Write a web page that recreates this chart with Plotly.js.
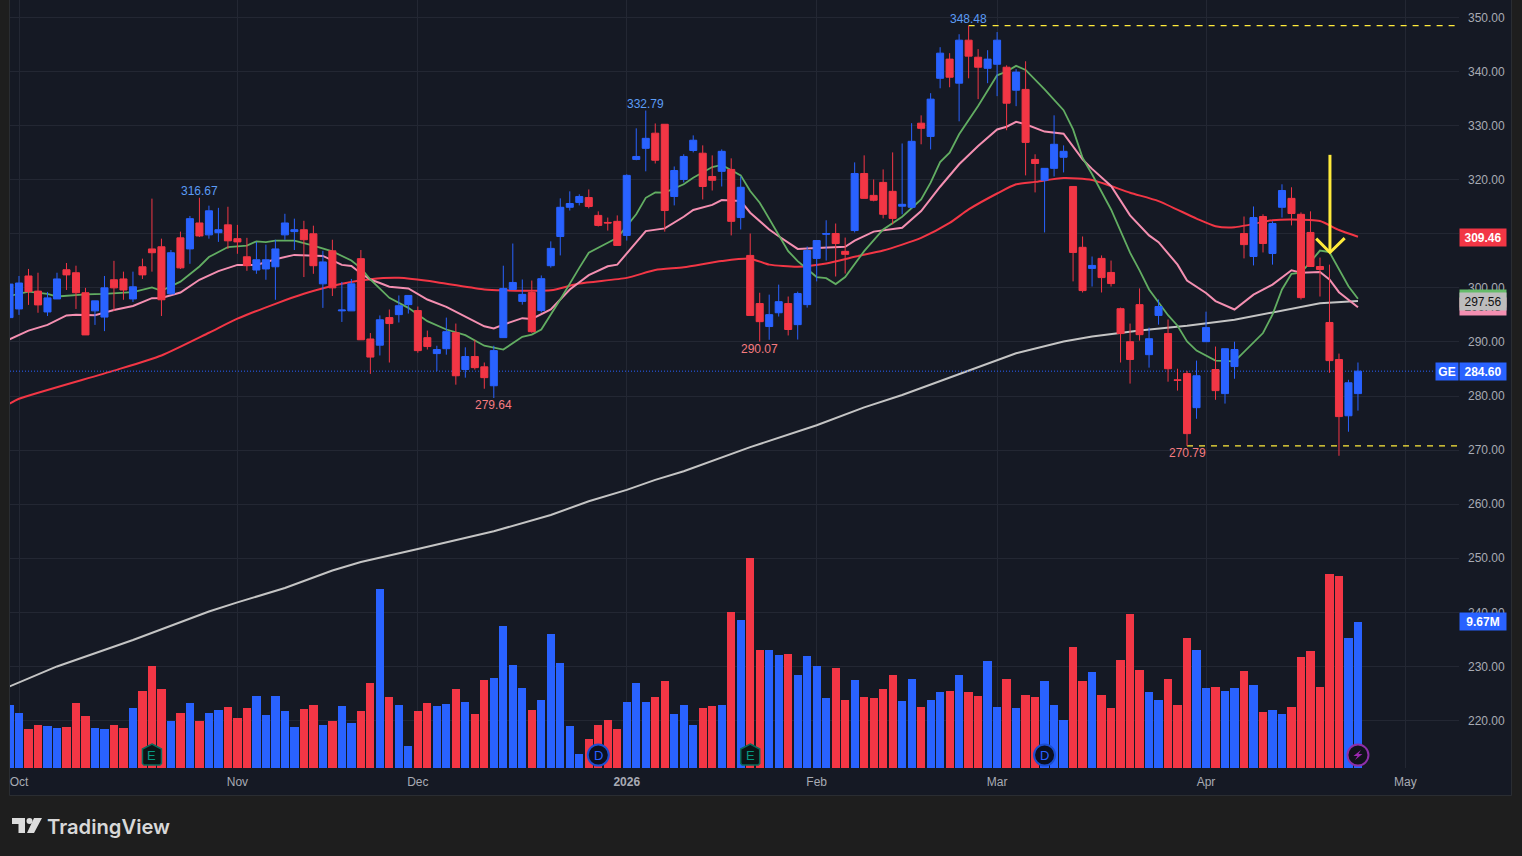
<!DOCTYPE html>
<html>
<head>
<meta charset="utf-8">
<script src="https://cdn.plot.ly/plotly-3.0.1.min.js"></script>
<style>html,body{margin:0;padding:0;background:#1e1e1e;overflow:hidden}#chart{width:1522px;height:856px}</style>
</head>
<body>
<div id="chart"></div>
<script>
const firstBar = -1;
const opens = [294.5,296.1,302.2,299.4,295.55,297.95,303.35,302.8,299.1,295.75,294.6,301.5,301.65,297.95,303.9,307.2,307.6,298.9,309.25,307.2,312,309.8,310.2,311.65,309.1,305.75,303.3,303.5,303.9,309.8,310.4,310.75,310,300.75,306.85,295.75,295.75,305.4,290.55,289.4,294.5,295.05,296.9,295.8,290.8,287.85,288.75,291.7,284.9,287.3,285.4,281.9,290.8,299.7,297.5,299.15,295.8,304.1,309.5,314.9,315.8,316.7,313.4,312.1,312.3,309.7,323.75,325.8,328.6,330.25,316.9,320.05,325.4,324.9,320.6,321.55,321.9,313,306,297.1,292.85,295.4,297.1,293.2,296.9,305.45,309.9,310.05,306.75,310.6,321.15,317.1,319.5,317.85,315.1,314.9,330.45,328,338.75,342.3,337.85,345.8,342.65,340.6,341.35,340.8,336.55,336.7,323.75,319.9,322.1,324.15,318.75,307.5,303.6,305.45,302.85,296.15,290.05,296.9,287.65,294.9,291.55,283,284.15,277.85,290.05,284.9,280.45,285.45,310.05,305.8,313.2,306.35,314.9,316.55,313.6,310.25,303.95,293.6,286.75,276.35,280.45];
const highs = [301.5,302.2,303.5,302.8,299.25,302.8,304.6,304.1,300,297.6,302.2,305,303,303,305.4,316.5,309.1,307,310.4,313.3,316.67,315.2,314.8,315,311.65,309.25,308.5,308,308.9,313.7,312.8,312.4,311.5,306.85,308.9,301.1,301.65,307,291.65,294.9,296,298.6,298.6,296.55,292.1,289.3,294.5,293.4,289,290.4,286.2,289.3,304.1,308.2,301.55,301.35,302.3,308.6,316.55,317.85,317.3,318.2,314.15,313,313.4,321,329.5,332.79,330.4,330.25,322.45,324.7,328.2,326.35,324.5,325.6,323.95,320.6,310.05,299.1,298.75,300.6,298.4,299.3,307.65,308.75,312.5,311.9,309.3,323.2,324.5,320.05,321.9,325.05,326.7,330.45,331.9,336,344.5,343.4,346.9,348.48,344.15,343.95,347.3,341.15,340.45,341.9,324.7,322.1,331.9,326.35,318.75,309.5,305.8,306,305.05,296.35,293.4,299.9,292.65,297.85,294.15,285.05,284.65,286.55,295.6,289.15,288.75,290.05,313.2,315.05,313.6,312.3,319.15,318.6,313.95,314.15,305.6,304.3,287.85,283,286.2];
const lows = [294,295,296.85,295.4,294.8,297.95,299.6,296.1,291.3,293.15,292,295.75,297.8,297.4,301.65,303,294.8,298.7,303.5,304.45,309.4,309.1,308.5,307.2,306.3,303.15,302.6,301.5,297.8,308.9,307,302,302.6,296.3,298.5,293.7,295.75,290.4,284.1,287.5,286.2,293.6,295.25,288,288.6,284.6,287.65,282.1,283.4,284.9,281.35,279.64,290.8,299.7,296.9,291.7,295.45,303.75,306,314.3,315.25,314.7,311.35,310.6,307.85,308.75,323.6,321.55,323,310.4,315.25,319.5,325.05,316.35,318,318.75,309.7,310.8,294.9,290.07,290.4,294.7,291.2,290.45,296.35,301.2,305.05,302.1,302.65,310.25,316.55,316,312.85,311.75,313.6,314.7,326.55,325.6,336.9,337.1,330.8,338.75,334.9,337.85,335.45,329.15,333.6,320.8,317.65,310.25,320.6,321.35,301.2,299.15,300.25,299.15,300.25,286.2,282.3,290.25,285.25,293.2,282.65,281,270.79,275.8,290.05,279.3,278.6,283.2,305.45,304.15,306.55,304.3,313,311.55,297.85,303.95,298.4,284.3,268.95,273.4,277.3];
const closes = [300.7,300.9,299.3,296.85,298.15,301.65,302.4,299.1,291.3,297.6,300,300,299.6,300.2,302.4,306.5,297.8,306.5,303.7,312.8,309.6,314.25,310.75,308.7,308.5,304.1,305.2,305.2,307.2,312,310.75,308.9,304.1,304.8,300,295.9,300.75,290.4,287.2,294.1,293.4,296.7,298.6,288.4,289.15,288.6,291.9,283.75,287.3,285.25,283.4,288.4,299.9,301,298.8,291.9,301.7,307.3,314.9,315.6,316.9,315.05,311.55,312,307.85,320.8,324.3,327.65,323.6,314.3,321.7,324.3,327.3,318.75,319.9,325.25,312.3,318.6,294.9,293.75,295.05,297.45,292.3,298.95,306.9,308.75,310.05,308.2,306.2,321.15,316.55,316.2,313.6,312.85,315.45,327.1,329.5,334.9,343.4,338.95,345.8,342.85,340.8,342.3,345.8,334.15,339.9,326.9,323,322.1,326.55,325.25,306.55,299.5,304.15,301.9,300.8,291.55,286.75,291.35,290.6,296.55,285.05,282.9,273.05,283.75,292.65,281,288.75,288.6,308,313,308.2,311.9,318,313.75,298.2,303.95,303.4,286.55,276.2,282.45,284.6];
const volumesM = [4.17,3.64,2.58,2.85,2.78,2.65,2.72,4.30,3.44,2.65,2.58,2.85,2.65,3.97,5.10,6.75,5.23,3.11,3.64,4.30,3.11,3.64,3.84,4.04,3.31,3.97,4.77,3.51,4.77,3.77,2.72,3.91,4.17,2.85,3.11,4.11,2.98,3.77,5.63,11.85,4.70,4.17,1.46,3.77,4.30,4.11,4.24,5.23,4.37,3.58,5.83,5.96,9.40,6.82,5.30,3.84,4.50,8.87,6.95,2.78,0.93,1.92,2.85,3.18,2.58,4.37,5.63,4.37,4.70,5.76,3.58,4.17,2.85,3.97,4.11,4.17,10.33,9.80,13.91,7.81,7.81,7.48,7.55,6.16,7.42,6.75,4.64,6.62,4.50,5.83,4.70,4.64,5.23,6.16,4.44,5.89,4.04,4.50,5.03,5.10,6.16,5.03,4.77,7.09,4.04,5.89,3.97,4.83,4.70,5.76,4.17,3.18,8.01,5.76,6.36,4.83,3.97,7.15,10.20,6.49,5.03,4.50,5.89,4.17,8.61,7.81,5.30,5.36,5.10,5.30,6.42,5.50,3.71,3.84,3.58,4.04,7.35,7.75,5.36,12.85,12.72,8.61,9.67];

const ma200Idx = [-1,4,12,20,23,28,33,36,42,47,50,56,60,64,67,70,73,77,84,89,93,100,103,105,110,113,118,123,128,133,137,141];
const ma200Val = [226.3,230,234.9,240.15,241.85,244.5,247.75,249.3,251.7,253.7,255,258,260.55,262.65,264.5,266.1,268,270.55,274.6,277.9,280.2,284.75,286.65,287.9,290.1,291,292.1,293,294.1,295.75,297.15,297.56];

const ma50Idx = [-1,0,10,15,20,23,27,30,34,37,40,44,49,51,56,59,64,67,70,74,77,79,82,85,88,91,95,98,100,103,105,107,110,113,117,120,124,126,128,132,134,137,139,141];
const ma50Val = [278.6,279.5,284.7,287.5,291.7,294.3,297.05,298.9,300.75,301.6,301.85,301.05,299.7,299.55,299.55,300.8,301.85,303.3,303.8,304.95,305.4,304.3,303.9,304.5,305.75,306.9,309.25,312,314.5,317.45,319.15,319.6,320.3,319.95,317.6,316.05,312.8,311.4,311.2,312.5,312.65,312.35,310.7,309.46];

const ma21Idx = [-1,1,3,5,6,8,10,12,14,15,17,19,21,23,25,27,29,31,32,34,35,36,37,38,39,41,43,45,47,49,50,51,53,54,56,58,60,62,63,65,66,68,70,71,73,74,76,77,79,80,82,84,87,88,90,93,95,97,99,101,103,104,105,106,108,110,112,113,115,117,119,120,122,123,125,126,128,130,132,134,135,137,138,139,141];
const ma21Val = [290.5,292.1,293.15,294.9,295.05,294.95,295.9,296.65,298.1,298.15,299.15,301.5,303.1,304.25,304.25,305.3,306.1,306.05,305.9,304.25,304.05,302.7,301.55,300.9,300.2,299.9,297.85,296.5,294.75,292.9,292.5,293.2,294.4,294.25,296,299.7,302.35,304,304.3,308.35,310.5,311,313.15,314.4,315.35,316.25,316.05,313.9,310.8,309.55,307.2,307.35,307.6,308.75,310.4,311.1,314.2,318.7,322.85,326.25,329.3,329.8,330.7,330.25,328.9,328.5,323.75,322,318.85,313.4,309.7,308.45,304.3,301.35,299.05,297.55,296,298.75,300.6,303.25,302.8,302.95,301.55,299.2,296.4];

const ma10Idx = [-1,1,3,4,7,9,12,14,15,17,19,20,22,24,25,26,27,29,31,33,35,36,37,39,41,43,45,47,49,51,53,54,55,57,59,60,62,63,65,66,67,68,70,71,73,74,76,77,78,80,81,82,84,85,86,87,89,91,93,95,96,97,98,99,101,103,104,105,106,108,110,111,112,113,115,117,118,119,121,122,123,124,126,128,130,131,132,133,134,135,136,137,138,140,141];
const ma10Val = [298.5,299.3,298.9,298.4,298.8,298.9,299.2,300.1,299.45,301.15,303.95,305.7,307.55,307.8,308.6,308.45,308.75,308.75,307.8,306.75,305.05,303.65,301.55,298.15,296.3,293.85,292.3,291.25,289.3,288.6,290.95,291.35,292.3,297.85,303.7,306.5,308.35,309.25,313.6,316.65,317.65,317.6,319.15,320.35,322.35,322.75,320.8,317.9,315.75,309.9,306.8,304.95,302,301.8,300.7,302,306.8,310.8,313.15,316.35,319.45,323.25,325,328.4,333.65,339.3,340,341.05,340.3,336.7,332.85,329.3,324.05,321,314.5,306.5,303.25,299.7,294.95,293,290.1,288.4,286.55,286.4,289.8,291.65,295.05,299.7,302.6,302.8,304.8,306.9,306.6,300.3,298];

const tickIdx = [0,23,42,64,84,103,125,146];
const tickLabels = ['Oct','Nov','Dec','<b>2026</b>','Feb','Mar','Apr','May'];
const priceTicks = [220,230,240,250,260,270,280,290,300,310,320,330,340,350];
const highLabels = [[19,316.67],[66,332.79],[100,348.48]];
const lowLabels = [[50,279.64],[78,290.07],[123,270.79]];
const lastPrice = 284.60, lastVolume = 9.67, ma50Last = 309.46, ma200Last = 297.56, ma21Last = 296.50, ma10Last = 298.00;
const highLine = 348.48, lowLine = 270.79;
const events = [[14,'E'],[61,'D'],[77,'E'],[108,'D'],[141,'S']];
const arrowIdx = [136.6,138.05,139.6], arrowPrice = [309.1,306.55,309.2], arrowTop = 324.6;

const BLUE='#2962ff', RED='#f23645';
const W=1522,H=856,L=10,R=63,B=88;
const pw=W-L-R, ph=H-B;
const idxs = opens.map((_,i)=>i+firstBar);
const xRange=[-0.948,151.64], yRange=[211.22,353.23], vRange=[0,50.86];
const px=x=>(x-L)/pw, py=y=>1-y/ph;

function lineTrace(x,y,color,width,smooth){return {type:'scatter',mode:'lines',x,y,xaxis:'x',yaxis:'y',line:smooth?{color,width,shape:'spline',smoothing:0.6}:{color,width},hoverinfo:'skip',showlegend:false};}

const traces=[
  lineTrace(ma200Idx,ma200Val,'#c4c4c4',2),
  lineTrace(ma50Idx,ma50Val,'#f23645',2,true),
  lineTrace(ma21Idx,ma21Val,'#f48fb1',2),
  lineTrace(ma10Idx,ma10Val,'#62ad62',1.8),
  {type:'scatter',mode:'lines',x:[xRange[0],148.9],y:[lastPrice,lastPrice],line:{color:BLUE,width:1,dash:'1px,2px'},hoverinfo:'skip',showlegend:false},
  {type:'scatter',mode:'lines',x:[100,xRange[1]],y:[highLine,highLine],line:{color:'#ffeb3b',width:1.2,dash:'6px,6px'},hoverinfo:'skip',showlegend:false},
  {type:'scatter',mode:'lines',x:[123,xRange[1]],y:[lowLine,lowLine],line:{color:'#ffeb3b',width:1.2,dash:'6px,6px'},hoverinfo:'skip',showlegend:false},
  {type:'bar',x:idxs,y:volumesM,xaxis:'x',yaxis:'y2',width:0.87,marker:{color:opens.map((o,i)=>closes[i]>=o?BLUE:RED),line:{width:0}},hoverinfo:'skip',showlegend:false},
  {type:'candlestick',x:idxs,open:opens,high:highs,low:lows,close:closes,xaxis:'x',yaxis:'y3',whiskerwidth:0,
   increasing:{line:{color:BLUE,width:1},fillcolor:BLUE},decreasing:{line:{color:RED,width:1},fillcolor:RED},hoverinfo:'skip',showlegend:false}
];

const shapes=[
 {type:'rect',xref:'paper',yref:'paper',x0:px(9.5),x1:px(1511.5),y0:py(795.5),y1:1.01,fillcolor:'#151924',line:{color:'#2a2d32',width:1},layer:'below'},
 {type:'line',xref:'x',yref:'y',x0:arrowIdx[1],x1:arrowIdx[1],y0:arrowTop,y1:arrowPrice[1],line:{color:'#ffeb3b',width:3}},
 {type:'path',xref:'x',yref:'y',path:`M${arrowIdx[0]},${arrowPrice[0]} L${arrowIdx[1]},${arrowPrice[1]} L${arrowIdx[2]},${arrowPrice[2]}`,line:{color:'#ffeb3b',width:3}},
 {type:'path',xref:'paper',yref:'paper',fillcolor:'#dcdcdc',line:{width:0},path:`M${px(12)},${py(818)} L${px(25)},${py(818)} L${px(25)},${py(833)} L${px(18.5)},${py(833)} L${px(18.5)},${py(824)} L${px(12)},${py(824)} Z`},
 {type:'path',xref:'paper',yref:'paper',fillcolor:'#dcdcdc',line:{width:0},path:`M${px(34)},${py(818)} L${px(42)},${py(818)} L${px(34)},${py(833)} L${px(27)},${py(833)} Z`},
 {type:'circle',xref:'paper',yref:'paper',fillcolor:'#dcdcdc',line:{width:0},x0:px(26.5),x1:px(32.5),y0:py(824),y1:py(818)}
];
const annotations=[];
const badgeY=0.86;
const badgeStyle={E:['#0b1516','#0a6b5c','#089981'],D:['#0b1020','#1b4ed1','#2962ff'],S:['#12121c','#8e2fa8','#9c27b0']};
events.forEach(([i,t])=>{
  const s=badgeStyle[t];
  const base={xref:'x',yref:'y2',xsizemode:'pixel',ysizemode:'pixel',xanchor:i,yanchor:badgeY};
  if(t==='E'){
    shapes.push({...base,type:'path',path:'M0,11 L9.5,6 L9.5,-8.5 L8,-10 L-8,-10 L-9.5,-8.5 L-9.5,6 Z',fillcolor:s[0],line:{color:s[1],width:1.5}});
  } else {
    shapes.push({...base,type:'circle',x0:-10.5,x1:10.5,y0:-10.5,y1:10.5,fillcolor:s[0],line:{color:s[1],width:2}});
  }
  if(t==='S'){
    shapes.push({...base,type:'path',path:'M3,5 L-4.5,-1 L-0.5,-1 L-3,-5 L4.5,1 L0.5,1 Z',fillcolor:s[2],line:{width:0}});
  } else {
    annotations.push({xref:'x',yref:'y2',x:i,y:badgeY,text:t,showarrow:false,xanchor:'center',yanchor:'middle',font:{family:'Liberation Sans',size:13,color:s[2]}});
  }
});
highLabels.forEach(([i,v])=>annotations.push({xref:'x',yref:'y',x:i,y:v,text:v.toFixed(2),showarrow:false,xanchor:'center',yanchor:'middle',yshift:7,font:{family:'Liberation Sans',size:12,color:'#5b9cf6'}}));
lowLabels.forEach(([i,v])=>annotations.push({xref:'x',yref:'y',x:i,y:v,text:v.toFixed(2),showarrow:false,xanchor:'center',yanchor:'middle',yshift:-7,font:{family:'Liberation Sans',size:12,color:'#f77c80'}}));
function pill(v,yref,text,bg,color,yshift,x0,w){
  annotations.push({xref:'paper',yref,x:x0===undefined?1:x0,y:v,text,showarrow:false,xanchor:'left',yanchor:'middle',yshift:yshift||0,width:w||46,height:17,bgcolor:bg,borderpad:0,align:'center',valign:'middle',font:{family:'Liberation Sans',size:12,color}});
}
pill(ma10Last,'y','298.02','#66bb6a','#0f1a12');
pill(ma21Last,'y','296.48','#f48fb1','#1a1216');
pill(ma200Last,'y',ma200Last.toFixed(2),'#bdbdbd','#101010');
pill(ma50Last,'y','<b>'+ma50Last.toFixed(2)+'</b>',RED,'#ffffff',-1);
pill(lastPrice,'y','<b>'+lastPrice.toFixed(2)+'</b>',BLUE,'#ffffff');
pill(lastPrice,'y','<b>GE</b>',BLUE,'#ffffff',0,px(1435),22);
pill(lastVolume,'y2','<b>'+lastVolume.toFixed(2)+'M</b>',BLUE,'#ffffff');
annotations.push({xref:'paper',yref:'paper',x:px(48),xshift:-3,y:py(826),text:'TradingView',showarrow:false,xanchor:'left',yanchor:'middle',font:{family:'Inter',size:20.2,weight:600,color:'#d8d8d8'}});

const layout={
  width:W,height:H,autosize:false,
  margin:{l:L,r:R,t:0,b:B,pad:0},
  paper_bgcolor:'#1e1e1e',plot_bgcolor:'rgba(0,0,0,0)',showlegend:false,
  boxgap:0.26,boxgroupgap:0,bargap:0,
  xaxis:{type:'linear',range:xRange,tickmode:'array',tickvals:tickIdx,ticktext:tickLabels,showgrid:true,gridcolor:'#232733',gridwidth:1,zeroline:false,showline:false,ticks:'',ticklabelstandoff:5,tickfont:{family:'Liberation Sans',size:12,color:'#a8abb4'},rangeslider:{visible:false},fixedrange:true},
  yaxis:{type:'linear',range:yRange,side:'right',tickmode:'array',tickvals:priceTicks,tickformat:'.2f',showgrid:true,gridcolor:'#232733',gridwidth:1,zeroline:false,showline:false,ticks:'',ticklabelstandoff:8,ticklabelshift:0.5,tickfont:{family:'Liberation Sans',size:12,color:'#a8abb4'},fixedrange:true},
  yaxis2:{overlaying:'y',range:vRange,visible:false,fixedrange:true},
  yaxis3:{overlaying:'y',range:yRange,visible:false,fixedrange:true},
  shapes,annotations
};
Plotly.newPlot('chart',traces,layout,{displayModeBar:false,staticPlot:true});
</script>
</body>
</html>
